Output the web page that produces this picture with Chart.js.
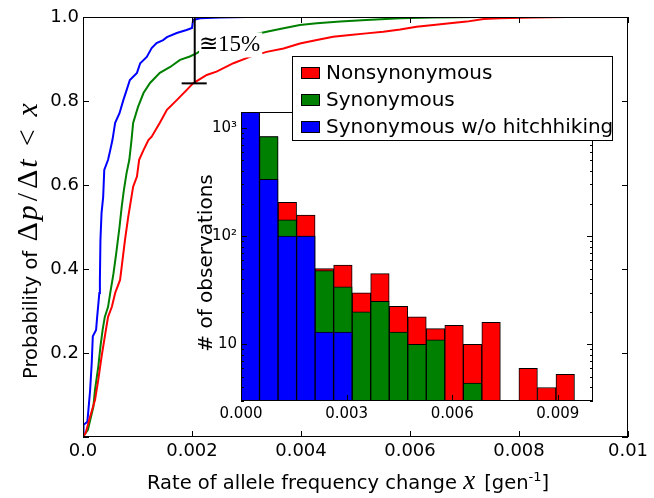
<!DOCTYPE html>
<html>
<head>
<meta charset="utf-8">
<script src="https://cdn.jsdelivr.net/npm/chart.js@4.4.1/dist/chart.umd.min.js"></script>
<style>
  html, body { margin: 0; padding: 0; background: #fff; }
  #wrap { position: relative; width: 654px; height: 498px; }
  #mainChart { position: absolute; left: 0; top: 0; }
  #insetChart { position: absolute; left: 170px; top: 48px; }
</style>
</head>
<body>
<div id="wrap">
  <canvas id="mainChart" width="654" height="498"></canvas>
  <canvas id="insetChart" width="450" height="385"></canvas>
</div>
<script>
// ---- main panel: cumulative distributions ----
var xTickVals = [0, 0.002, 0.004, 0.006, 0.008, 0.01];
var xTickLabels = ['0.0', '0.002', '0.004', '0.006', '0.008', '0.01'];
var yTickVals = [0, 0.2, 0.4, 0.6, 0.8, 1.0];
var yTickLabels = ['', '0.2', '0.4', '0.6', '0.8', '1.0'];

var seriesNames = ['Nonsynonymous', 'Synonymous', 'Synonymous w/o hitchhiking'];

var redX = [0, 0.00005, 0.00013, 0.00022, 0.00028, 0.00034, 0.0004, 0.00046, 0.00053, 0.00059,
  0.00068, 0.00071, 0.00077, 0.00083, 0.00088, 0.00092, 0.00099, 0.00103, 0.00111, 0.0012,
  0.00126, 0.00141, 0.00154, 0.00172, 0.0019, 0.00202, 0.00227, 0.00245, 0.00276, 0.00306,
  0.00337, 0.00368, 0.00398, 0.00429, 0.00459, 0.0049, 0.0052, 0.00551, 0.00582, 0.00612,
  0.00643, 0.00673, 0.00704, 0.00735, 0.00765, 0.00826, 0.00888, 0.01];
var redY = [0, 0.01, 0.048, 0.088, 0.136, 0.191, 0.239, 0.286, 0.31, 0.343,
  0.374, 0.405, 0.469, 0.524, 0.564, 0.596, 0.62, 0.66, 0.683, 0.707,
  0.715, 0.748, 0.779, 0.802, 0.826, 0.842, 0.862, 0.87, 0.89, 0.905,
  0.917, 0.925, 0.937, 0.945, 0.953, 0.957, 0.961, 0.965, 0.97, 0.977,
  0.981, 0.985, 0.989, 0.995, 0.997, 0.999, 1.0, 1.0];

var greenX = [0, 0.00005, 0.00009, 0.00019, 0.00022, 0.00028, 0.00032, 0.00036, 0.0004, 0.00046,
  0.0005, 0.00054, 0.00056, 0.00061, 0.00067, 0.00071, 0.00075, 0.0008, 0.00085, 0.00089,
  0.00092, 0.00101, 0.00111, 0.00123, 0.00141, 0.0016, 0.00178, 0.00196, 0.00209, 0.00227,
  0.0031, 0.00337, 0.00368, 0.00398, 0.00429, 0.00472, 0.0052, 0.00582, 0.00642, 0.00734, 0.01];
var greenY = [0, 0.01, 0.017, 0.072, 0.112, 0.167, 0.215, 0.255, 0.286, 0.31,
  0.343, 0.374, 0.39, 0.438, 0.5, 0.548, 0.588, 0.629, 0.66, 0.707,
  0.748, 0.786, 0.819, 0.843, 0.867, 0.881, 0.898, 0.906, 0.914, 0.929,
  0.957, 0.965, 0.973, 0.981, 0.985, 0.989, 0.993, 0.997, 0.999, 1.0, 1.0];

var blueX = [0, 0.00001, 0.00008, 0.00013, 0.00016, 0.00018, 0.00024, 0.00026, 0.0003, 0.00031,
  0.00032, 0.00034, 0.00037, 0.00039, 0.00046, 0.0005, 0.00054, 0.00059, 0.00067, 0.00074,
  0.0008, 0.00086, 0.00099, 0.00105, 0.00117, 0.00126, 0.00135, 0.00147, 0.00154, 0.00172,
  0.0019, 0.002, 0.00202, 0.00215, 0.0025, 0.003, 0.01];
var blueY = [0, 0.029, 0.036, 0.11, 0.176, 0.24, 0.255, 0.286, 0.343, 0.374,
  0.469, 0.533, 0.571, 0.636, 0.66, 0.683, 0.707, 0.748, 0.771, 0.802,
  0.826, 0.85, 0.867, 0.89, 0.905, 0.926, 0.938, 0.945, 0.952, 0.962,
  0.969, 0.974, 0.993, 0.997, 0.999, 1.0, 1.0];

// the "~15%" gap marker
var gapX = [0.00205, 0.00205];
var gapY = [0.842, 1.0];
var capX = [0.00181, 0.00227];
var capY = [0.842, 0.842];
var gapText = '\u224A15%';
var gapTextAt = [0.00213, 0.918];

// ---- inset: histogram of rates (log counts) ----
var binCenters = [0.000263, 0.000789, 0.001316, 0.001842, 0.002368, 0.002895, 0.003421, 0.003947, 0.004474,
  0.005, 0.005526, 0.006053, 0.006579, 0.007105, 0.007632, 0.008158, 0.008684, 0.009211];
var histRed = [1400, 830, 205, 156, 50, 54, 30, 45, 22.5, 18, 14, 15, 10, 16, null, 6, 4, 5.3];
var histGreen = [1400, 830, 141, 100, 48, 34, 20, 25, 13, 10, 11, null, 4.4, null, null, null, null, null];
var histBlue = [1400, 335, 100, 100, 13, 13, null, null, null, null, null, null, null, null, null, null, null, null];

var insetXTicks = [0, 0.003, 0.006, 0.009];
var insetXLabels = ['0.000', '0.003', '0.006', '0.009'];
var insetYTicks = [10, 100, 1000];
var insetYLabels = ['10', '10\u00B2', '10\u00B3'];
var insetYMinor = [3, 4, 5, 6, 7, 8, 9, 20, 30, 40, 50, 60, 70, 80, 90, 200, 300, 400, 500, 600, 700, 800, 900];

var RED = '#ff0000', GREEN = '#008000', BLUE = '#0000ff';
var SANS = '"DejaVu Sans", sans-serif';
var SERIF = '"Liberation Serif", "DejaVu Serif", serif';

function pairs(xs, ys) {
    return xs.map(function(x, i) { return {x: x, y: ys[i]}; });
}

function drawRuns(ctx, runs, x, y) {
    runs.forEach(function(r) {
        ctx.font = r.font;
        ctx.fillText(r.text, x, y - (r.rise || 0));
        x += ctx.measureText(r.text).width + (r.gap || 0);
    });
    return x;
}
function runsWidth(ctx, runs) {
    var w = 0;
    runs.forEach(function(r) {
        ctx.font = r.font;
        w += ctx.measureText(r.text).width + (r.gap || 0);
    });
    return w;
}

// box round the plot area, ticks pointing inwards
var frameTicks = {
    id: 'frameTicks',
    afterDatasetsDraw: function(chart, args, o) {
        var a = chart.chartArea, ctx = chart.ctx;
        var xs = chart.scales.x, ys = chart.scales.y;
        ctx.save();
        ctx.strokeStyle = '#000';
        ctx.lineWidth = 1;
        ctx.strokeRect(a.left + 0.5, a.top + 0.5, a.right - a.left - 1, a.bottom - a.top - 1);
        ctx.beginPath();
        (o.x || []).forEach(function(v) {
            var px = Math.round(xs.getPixelForValue(v)) + 0.5;
            ctx.moveTo(px, a.bottom); ctx.lineTo(px, a.bottom - o.len);
            ctx.moveTo(px, a.top); ctx.lineTo(px, a.top + o.len);
        });
        (o.y || []).forEach(function(v) {
            var py = Math.round(ys.getPixelForValue(v)) + 0.5;
            ctx.moveTo(a.left, py); ctx.lineTo(a.left + o.len, py);
            ctx.moveTo(a.right, py); ctx.lineTo(a.right - o.len, py);
        });
        (o.yMinor || []).forEach(function(v) {
            var py = Math.round(ys.getPixelForValue(v)) + 0.5;
            ctx.moveTo(a.left, py); ctx.lineTo(a.left + o.minorLen, py);
            ctx.moveTo(a.right, py); ctx.lineTo(a.right - o.minorLen, py);
        });
        ctx.stroke();
        ctx.restore();
    }
};

var gapLabel = {
    id: 'gapLabel',
    afterDatasetsDraw: function(chart) {
        var ctx = chart.ctx, xs = chart.scales.x, ys = chart.scales.y;
        var px = xs.getPixelForValue(gapTextAt[0]), py = ys.getPixelForValue(gapTextAt[1]);
        ctx.save();
        ctx.font = '23px ' + SERIF;
        var w = ctx.measureText(gapText).width;
        ctx.fillStyle = '#fff';
        ctx.fillRect(px, py - 19, w + 2, 25);
        ctx.fillStyle = '#000';
        ctx.textBaseline = 'alphabetic';
        ctx.fillText(gapText, px, py);
        ctx.restore();
    }
};

var mainTitles = {
    id: 'mainTitles',
    afterDraw: function(chart) {
        var ctx = chart.ctx;
        ctx.save();
        ctx.fillStyle = '#000';
        ctx.textBaseline = 'alphabetic';
        var xr = [
            {text: 'Rate of allele frequency change ', font: '19.5px ' + SANS},
            {text: 'x', font: 'italic 27px ' + SERIF, gap: 9},
            {text: '[gen', font: '19.5px ' + SANS},
            {text: '-1', font: '13px ' + SANS, rise: 8},
            {text: ']', font: '19.5px ' + SANS}
        ];
        drawRuns(ctx, xr, 348 - runsWidth(ctx, xr) / 2, 489);

        var yr = [
            {text: 'Probability of ', font: '19.5px ' + SANS, gap: 3},
            {text: '\u0394', font: '30px ' + SERIF, gap: 2},
            {text: 'p', font: 'italic 30px ' + SERIF, gap: 4},
            {text: '/', font: '30px ' + SERIF, gap: 4},
            {text: '\u0394', font: '30px ' + SERIF, gap: 2},
            {text: 't', font: 'italic 30px ' + SERIF, gap: 13},
            {text: '<', font: '30px ' + SERIF, gap: 13},
            {text: 'x', font: 'italic 30px ' + SERIF}
        ];
        ctx.translate(37, 241);
        ctx.rotate(-Math.PI / 2);
        drawRuns(ctx, yr, -runsWidth(ctx, yr) / 2, 0);
        ctx.restore();
    }
};

new Chart(document.getElementById('mainChart'), {
    type: 'line',
    data: {
        datasets: [
            {label: 'gap', data: pairs(gapX, gapY), borderColor: '#000', borderWidth: 2, order: 0},
            {label: 'cap', data: pairs(capX, capY), borderColor: '#000', borderWidth: 2, order: 0},
            {label: seriesNames[2], data: pairs(blueX, blueY), borderColor: BLUE, order: 3},
            {label: seriesNames[1], data: pairs(greenX, greenY), borderColor: GREEN, order: 2},
            {label: seriesNames[0], data: pairs(redX, redY), borderColor: RED, order: 1}
        ]
    },
    options: {
        responsive: false,
        animation: false,
        layout: {padding: {top: 17, right: 26, left: 0, bottom: 0}},
        elements: {point: {radius: 0}, line: {borderWidth: 2, tension: 0, fill: false}},
        plugins: {
            legend: {display: false},
            tooltip: {enabled: false},
            frameTicks: {x: xTickVals, y: yTickVals, len: 6}
        },
        scales: {
            x: {
                type: 'linear', min: 0, max: 0.01,
                afterFit: function(s) { s.height = 61; },
                afterBuildTicks: function(s) { s.ticks = xTickVals.map(function(v) { return {value: v}; }); },
                grid: {display: false, drawTicks: false},
                border: {display: false},
                ticks: {
                    padding: 4, color: '#000', maxRotation: 0, autoSkip: false,
                    font: {family: 'DejaVu Sans', size: 18},
                    callback: function(v) { return xTickLabels[xTickVals.indexOf(v)]; }
                }
            },
            y: {
                type: 'linear', min: 0, max: 1,
                afterFit: function(s) { s.width = 83; },
                afterBuildTicks: function(s) { s.ticks = yTickVals.map(function(v) { return {value: v}; }); },
                grid: {display: false, drawTicks: false},
                border: {display: false},
                ticks: {
                    padding: 4, color: '#000', autoSkip: false,
                    font: {family: 'DejaVu Sans', size: 18},
                    callback: function(v) { return yTickLabels[yTickVals.indexOf(v)]; }
                }
            }
        }
    },
    plugins: [gapLabel, frameTicks, mainTitles]
});

// legend drawn over the inset, like the original
var insetLegend = {
    id: 'insetLegend',
    afterDraw: function(chart) {
        var ctx = chart.ctx;
        var ds = chart.data.datasets;
        ctx.save();
        ctx.fillStyle = '#fff';
        ctx.fillRect(122, 8, 320, 84);
        ctx.strokeStyle = '#000';
        ctx.lineWidth = 1;
        ctx.strokeRect(122.5, 8.5, 320, 84);
        ctx.font = '20px ' + SANS;
        ctx.textBaseline = 'alphabetic';
        ds.forEach(function(d, i) {
            var cy = 24 + i * 27;
            ctx.fillStyle = d.backgroundColor;
            ctx.fillRect(131, cy - 5, 18, 11);
            ctx.strokeRect(131.5, cy - 4.5, 18, 11);
            ctx.fillStyle = '#000';
            ctx.fillText(d.label, 156, cy + 7);
        });
        ctx.restore();
    }
};

var insetTitle = {
    id: 'insetTitle',
    afterDraw: function(chart) {
        var ctx = chart.ctx;
        ctx.save();
        ctx.fillStyle = '#000';
        ctx.font = '20px ' + SANS;
        ctx.textAlign = 'center';
        ctx.textBaseline = 'alphabetic';
        ctx.translate(42, 215);
        ctx.rotate(-Math.PI / 2);
        ctx.fillText('# of observations', 0, 0);
        ctx.restore();
    }
};

var barStyle = {borderColor: '#000', borderWidth: 1, borderSkipped: false, grouped: false,
    barPercentage: 1, categoryPercentage: 1};

new Chart(document.getElementById('insetChart'), {
    type: 'bar',
    data: {
        datasets: [
            Object.assign({label: seriesNames[0], data: pairs(binCenters, histRed), backgroundColor: RED, order: 3}, barStyle),
            Object.assign({label: seriesNames[1], data: pairs(binCenters, histGreen), backgroundColor: GREEN, order: 2}, barStyle),
            Object.assign({label: seriesNames[2], data: pairs(binCenters, histBlue), backgroundColor: BLUE, order: 1}, barStyle)
        ]
    },
    options: {
        responsive: false,
        animation: false,
        layout: {padding: {top: 64, right: 27, left: 0, bottom: 0}},
        plugins: {
            legend: {display: false},
            tooltip: {enabled: false},
            frameTicks: {x: insetXTicks, y: insetYTicks, yMinor: insetYMinor, len: 6, minorLen: 3}
        },
        scales: {
            x: {
                type: 'linear', min: 0, max: 0.01, offset: false,
                afterFit: function(s) { s.height = 32; },
                afterBuildTicks: function(s) { s.ticks = insetXTicks.map(function(v) { return {value: v}; }); },
                grid: {display: false, drawTicks: false, offset: false},
                border: {display: false},
                ticks: {
                    padding: 4, color: '#000', maxRotation: 0, autoSkip: false,
                    font: {family: 'DejaVu Sans', size: 15},
                    callback: function(v) { return insetXLabels[insetXTicks.indexOf(v)]; }
                }
            },
            y: {
                type: 'logarithmic', min: 3, max: 1400,
                afterFit: function(s) { s.width = 71; },
                afterBuildTicks: function(s) { s.ticks = insetYTicks.map(function(v) { return {value: v}; }); },
                grid: {display: false, drawTicks: false},
                border: {display: false},
                ticks: {
                    padding: 4, color: '#000', autoSkip: false,
                    font: {family: 'DejaVu Sans', size: 15},
                    callback: function(v) { return insetYLabels[insetYTicks.indexOf(v)]; }
                }
            }
        }
    },
    plugins: [frameTicks, insetTitle, insetLegend]
});
</script>
</body>
</html>
